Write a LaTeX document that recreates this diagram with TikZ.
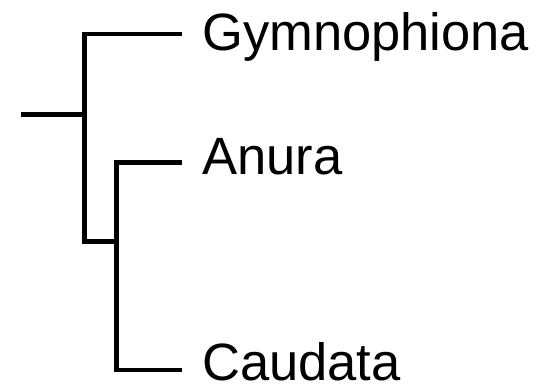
\documentclass[tikz,border=0pt]{standalone}
\usepackage{fontspec}
\setmainfont{Liberation Sans}
\begin{document}
\begin{tikzpicture}[x=1pt,y=-1pt,
  branch/.style={line width=4.8pt,line cap=rect,line join=miter},
  taxon/.style={anchor=base west,inner sep=0pt,text depth=0pt,font=\fontsize{52.5}{60}\selectfont}]
\useasboundingbox (0,0) rectangle (539,387);
\coordinate (r0) at (21,114.5);
\coordinate (r1) at (84.8,114.5);
\coordinate (a1) at (84.8,34);
\coordinate (a2) at (84.8,241.7);
\coordinate (b0) at (116.8,241.7);
\coordinate (b1) at (116.8,162.5);
\coordinate (b2) at (116.8,370);
\coordinate (tg) at (180,34);
\coordinate (ta) at (180,162.5);
\coordinate (tc) at (180,370);
\node[taxon] (gym) at (202,51) {Gymnophiona};
\node[taxon] (anu) at (202,175) {Anura};
\node[taxon] (cau) at (202,381) {Caudata};
\draw[line width=4.8pt] (r0) -- (r1);
\draw[branch] (tg) -- (a1) -- (a2) -- (b0);
\draw[branch] (ta) -- (b1) -- (b2) -- (tc);
\end{tikzpicture}
\end{document}
